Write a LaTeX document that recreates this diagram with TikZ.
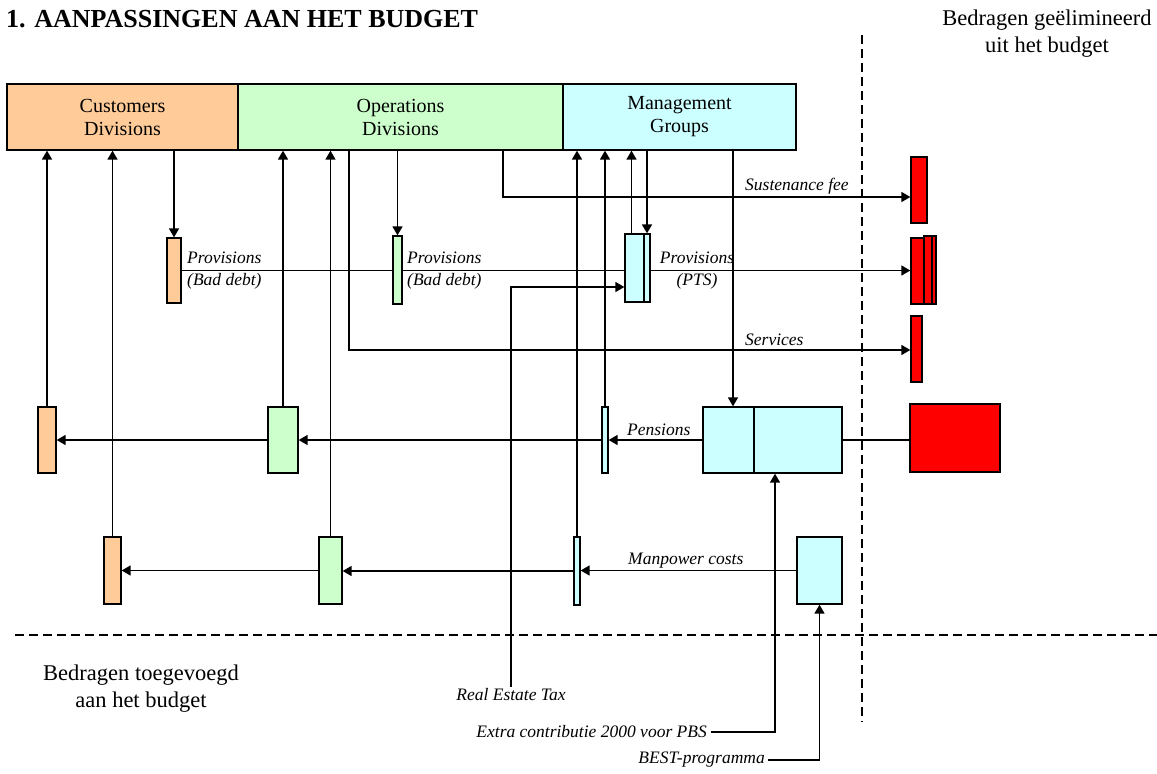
\documentclass[tikz,border=0pt]{standalone}
\usepackage{fontspec}
\setmainfont{Liberation Serif}
\usetikzlibrary{arrows.meta}
\pgfdeclarelayer{bg}
\pgfsetlayers{bg,main}
\definecolor{peach}{HTML}{FFCC99}
\definecolor{mint}{HTML}{CCFFCC}
\definecolor{aqua}{HTML}{CCFFFF}
\definecolor{rood}{HTML}{FF0000}
\newcommand\bx[7]{\node[bx, fill=#6, minimum width={(#4-#2)*1pt}, minimum height={(#5-#3)*1pt}] (#1) at ({(#2+#4)/2},{(#3+#5)/2}) {#7};}
\begin{document}
\begin{tikzpicture}[x=1pt,y=-1pt,
 bx/.style={draw=black, line width=1.3pt, inner sep=0pt, align=center, font=\fontsize{20}{23}\selectfont},
 conn/.style={line width=1.6pt},
 arr/.style={conn, -{Triangle[length=9pt,width=10pt]}},
 lbl/.style={font=\fontsize{17.5}{22}\selectfont\itshape, inner sep=0pt, align=left},
 side/.style={font=\fontsize{22.5}{27}\selectfont, align=center, inner sep=0pt},
 divider/.style={line width=1.3pt, dash pattern=on 9pt off 5pt}]
\useasboundingbox (0,0) rectangle (1157,774);

\node[anchor=base west, font=\fontsize{26}{30}\selectfont\bfseries, inner sep=0pt] (title) at (6,27) {1. AANPASSINGEN AAN HET BUDGET};

\bx{cust}{7}{84}{238}{150}{peach}{Customers\\Divisions}
\bx{ops}{238}{84}{563}{150}{mint}{Operations\\Divisions}
\bx{mgmt}{563}{84}{796}{150}{aqua}{Management\\Groups}

\bx{provC}{167}{238}{181}{303}{peach}{}
\bx{provO}{393}{236}{402}{304}{mint}{}
\bx{pts}{625}{234}{644}{302}{aqua}{}
\bx{ptsb}{644}{234}{650}{302}{aqua}{}

\bx{op}{38}{407}{56}{473}{peach}{}
\bx{gp}{268}{407}{298}{473}{mint}{}
\bx{tcp}{602}{407}{608}{473}{aqua}{}
\bx{pensA}{703}{407}{754}{473}{aqua}{}
\bx{pensB}{754}{407}{842}{473}{aqua}{}

\bx{om}{104}{537}{121}{604}{peach}{}
\bx{gm}{319}{537}{342}{604}{mint}{}
\bx{tcm}{574}{537}{580}{605}{aqua}{}
\bx{man}{797}{537}{842}{604}{aqua}{}

\bx{red1}{911}{157}{927}{223}{rood}{}
\bx{red2}{911}{238}{924}{304}{rood}{}
\bx{red2b}{924}{236}{932}{304}{rood}{}
\bx{red2c}{932}{236}{936}{304}{rood}{}
\bx{red3}{911}{316}{922}{382}{rood}{}
\bx{red4}{910}{404}{1000}{472}{rood}{}

\node[lbl, anchor=west] (lpc) at (187,271) {Provisions\\(Bad debt)};
\node[lbl, anchor=west] (lpo) at (407,271) {Provisions\\(Bad debt)};
\node[lbl, align=center] (lpp) at (697,271) {Provisions\\(PTS)};
\node[lbl, anchor=west] (lsf) at (745,186) {Sustenance fee};
\node[lbl, anchor=west] (lsv) at (745,340) {Services};
\node[lbl, anchor=west] (lpn) at (627,430) {Pensions};
\node[lbl, anchor=west] (lmc) at (628,561) {Manpower costs};

\node[side] (elim) at (1047,34) {Bedragen geëlimineerd\\uit het budget};
\node[side] (toeg) at (141,689) {Bedragen toegevoegd\\aan het budget};

\node[lbl, inner sep=2pt] (ret) at (511,695) {Real Estate Tax};
\node[lbl, anchor=east, inner sep=4pt] (extra) at (711,732) {Extra contributie 2000 voor PBS};
\node[lbl, anchor=east, inner sep=3pt] (best) at (768,760) {BEST-programma};

\coordinate (sf) at (503,197);
\coordinate (sv) at (349,350);
\coordinate (c1) at (775,732);
\coordinate (ptsIn) at ([yshift=-19pt]pts.west);
\coordinate (ptsUp) at ([xshift=-3pt]pts.north);
\coordinate (pAin) at ([xshift=4.5pt]pensA.north);
\coordinate (dl1) at (862,35);
\coordinate (dl2) at (862,722);
\coordinate (dh1) at (15,635);
\coordinate (dh2) at (1157,635);

\begin{pgfonlayer}{bg}
% downward arrows from the top boxes
\draw[arr] (cust.south -| provC.north) -- (provC.north);
\draw[arr] (ops.south -| provO.north) -- (provO.north);
\draw[arr] (mgmt.south -| ptsb.north) -- (ptsb.north);
\draw[arr] (pAin |- mgmt.south) -- (pAin);
% upward arrows into the top boxes
\draw[arr] (op.north) -- (op.north |- cust.south);
\draw[arr] (om.north) -- (om.north |- cust.south);
\draw[arr] (gp.north) -- (gp.north |- ops.south);
\draw[arr] (gm.north) -- (gm.north |- ops.south);
\draw[arr] (tcp.north) -- (tcp.north |- mgmt.south);
\draw[arr] (tcm.north) -- (tcm.north |- mgmt.south);
\draw[arr] (ptsUp) -- (ptsUp |- mgmt.south);
% eliminated amounts
\draw[arr] (provC.east) -- (provC.east -| red2.west);
\draw[arr] (sf |- ops.south) -- (sf) -- (sf -| red1.west);
\draw[arr] (sv |- ops.south) -- (sv) -- (sv -| red3.west);
\draw[conn] (pensB.east) -- (pensB.east -| red4.west);
% real estate tax
\draw[arr] (ret.north) -- (ret.north |- ptsIn) -- (ptsIn);
% pensions row
\draw[arr] (pensA.west) -- (pensA.west -| tcp.east);
\draw[arr] (tcp.west) -- (tcp.west -| gp.east);
\draw[arr] (gp.west) -- (gp.west -| op.east);
% manpower row
\draw[arr] (man.west) -- (man.west -| tcm.east);
\draw[arr] (tcm.west) -- (tcm.west -| gm.east);
\draw[arr] (gm.west) -- (gm.west -| om.east);
% added amounts
\draw[arr] (extra.east) -- (c1) -- (c1 |- pensB.south);
\draw[arr] (best.east) -- (best.east -| man.south) -- (man.south);
% dividers
\draw[divider] (dl1) -- (dl2);
\draw[divider] (dh1) -- (dh2);
\end{pgfonlayer}
\end{tikzpicture}
\end{document}
